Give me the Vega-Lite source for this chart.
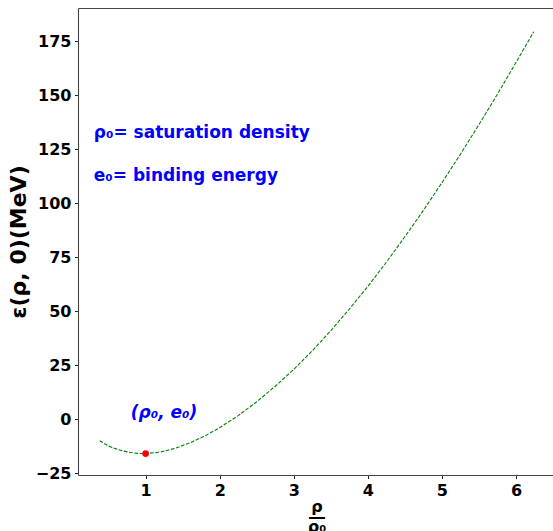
{
  "$schema": "https://vega.github.io/schema/vega-lite/v6.json",
  "width": 475,
  "height": 467,
  "autosize": {"type": "none"},
  "padding": {"left": 78, "top": 8, "right": 0, "bottom": 56},
  "background": "white",
  "config": {
    "view": {"stroke": null},
    "axis": {
      "domain": true,
      "domainColor": "#444",
      "domainWidth": 1.1,
      "grid": false,
      "ticks": true,
      "tickSize": 3.5,
      "tickColor": "#222",
      "tickWidth": 1,
      "labelFont": "DejaVu Sans",
      "labelFontWeight": "bold",
      "labelFontSize": 16,
      "labelColor": "black",
      "labelPadding": 3.5,
      "titleFont": "DejaVu Sans",
      "titleFontWeight": "bold",
      "titleColor": "black"
    }
  },
  "datasets": {
    "curve": [
      {"r": 0.38, "e": -10.0},
      {"r": 0.5, "e": -12.5},
      {"r": 0.6, "e": -13.8},
      {"r": 0.7, "e": -14.8},
      {"r": 0.8, "e": -15.5},
      {"r": 0.9, "e": -15.9},
      {"r": 1.0, "e": -16.0},
      {"r": 1.2, "e": -15.3},
      {"r": 1.4, "e": -13.5},
      {"r": 1.6, "e": -11.0},
      {"r": 1.8, "e": -7.8},
      {"r": 2.0, "e": -4.0},
      {"r": 2.25, "e": 1.6},
      {"r": 2.5, "e": 8.0},
      {"r": 2.75, "e": 15.2},
      {"r": 3.0, "e": 23.0},
      {"r": 3.25, "e": 31.6},
      {"r": 3.5, "e": 40.9},
      {"r": 3.75, "e": 50.9},
      {"r": 4.0, "e": 61.4},
      {"r": 4.25, "e": 72.6},
      {"r": 4.5, "e": 84.4},
      {"r": 4.75, "e": 96.6},
      {"r": 5.0, "e": 109.4},
      {"r": 5.25, "e": 122.6},
      {"r": 5.5, "e": 136.3},
      {"r": 5.75, "e": 150.4},
      {"r": 6.0, "e": 165.1},
      {"r": 6.24, "e": 179.3}
    ],
    "minimum": [{"r": 1.0, "e": -16.0}],
    "notes": [
      {"r": 0.3, "e": 130, "label": "ρ₀= saturation density"},
      {"r": 0.3, "e": 110, "label": "e₀= binding energy"}
    ],
    "pointNote": [{"r": 0.8, "e": 0.5, "label": "(ρ₀, e₀)"}]
  },
  "resolve": {"axis": {"x": "independent"}},
  "layer": [
    {
      "data": {"name": "curve"},
      "mark": {"type": "line", "color": "#008000", "strokeWidth": 1.1, "strokeDash": [3.7, 1.6], "clip": true},
      "encoding": {
        "x": {
          "field": "r", "type": "quantitative",
          "scale": {"domain": [0.087, 6.5], "nice": false, "zero": false},
          "axis": {
            "orient": "bottom",
            "values": [1, 2, 3, 4, 5, 6],
            "format": "d",
            "title": ["ρ", "―", "ρ₀"],
            "titleFontSize": 16,
            "titleLineHeight": 10,
            "titlePadding": 0,
            "titleX": 238.5
          }
        },
        "y": {
          "field": "e", "type": "quantitative",
          "scale": {"domain": [-25.9, 190.3], "nice": false, "zero": false},
          "axis": {
            "values": [-25, 0, 25, 50, 75, 100, 125, 150, 175],
            "format": "d",
            "title": "ε(ρ, 0)(MeV)",
            "titleFontSize": 22,
            "titlePadding": 5
          }
        }
      }
    },
    {
      "data": {"name": "minimum"},
      "mark": {"type": "circle", "color": "#ff0000", "opacity": 1, "size": 45},
      "encoding": {
        "x": {
          "field": "r", "type": "quantitative",
          "axis": {"orient": "top", "labels": false, "ticks": false, "title": null}
        },
        "y": {"field": "e", "type": "quantitative"}
      }
    },
    {
      "data": {"name": "notes"},
      "mark": {"type": "text", "color": "#0000ff", "font": "DejaVu Sans", "fontWeight": "bold", "fontSize": 17, "align": "left", "baseline": "alphabetic"},
      "encoding": {
        "x": {"field": "r", "type": "quantitative", "axis": null},
        "y": {"field": "e", "type": "quantitative"},
        "text": {"field": "label"}
      }
    },
    {
      "data": {"name": "pointNote"},
      "mark": {"type": "text", "color": "#0000ff", "font": "DejaVu Sans", "fontWeight": "bold", "fontStyle": "italic", "fontSize": 17, "align": "left", "baseline": "alphabetic"},
      "encoding": {
        "x": {"field": "r", "type": "quantitative", "axis": null},
        "y": {"field": "e", "type": "quantitative"},
        "text": {"field": "label"}
      }
    }
  ]
}
